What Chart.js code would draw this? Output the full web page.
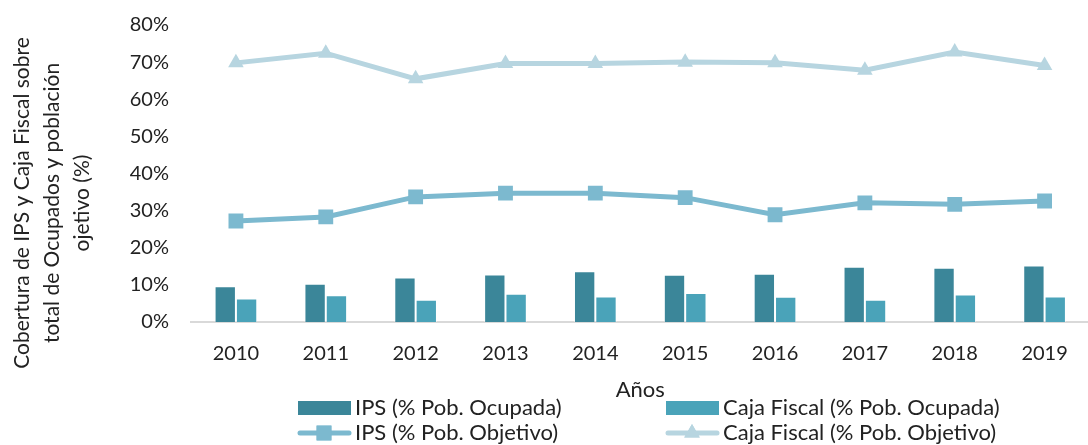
<!DOCTYPE html>
<html>
<head>
<meta charset="utf-8">
<script src="https://cdn.jsdelivr.net/npm/chart.js@4.4.1/dist/chart.umd.min.js"></script>
<style>
    html, body { margin: 0; padding: 0; background: #fff; overflow: hidden; }
    #contenedor { width: 1100px; height: 445px; }
</style>
</head>
<body>
<div id="contenedor"><canvas id="grafico-cobertura"></canvas></div>
<script>
// datos (porcentajes)
var anos = ['2010', '2011', '2012', '2013', '2014', '2015', '2016', '2017', '2018', '2019'];
var ipsOcupada = [9.6, 10.3, 12.0, 12.8, 13.7, 12.7, 13.0, 14.9, 14.6, 15.2];
var cajaOcupada = [6.3, 7.2, 6.0, 7.6, 6.9, 7.8, 6.8, 6.0, 7.4, 6.9];
var ipsObjetivo = [27.2, 28.3, 33.7, 34.7, 34.7, 33.5, 28.9, 32.1, 31.7, 32.6];
var cajaObjetivo = [69.8, 72.4, 65.5, 69.6, 69.6, 70.0, 69.8, 67.8, 72.7, 69.1];
var tituloY = ['Cobertura de IPS y Caja Fiscal sobre', 'total de Ocupados y población', 'ojetivo (%)'];
var tituloX = 'Años';

var fuente = 'Lato';
var colorTexto = '#222222';

// titulo del eje Y (tres lineas, girado) y leyenda en dos columnas
var textosExtra = {
    id: 'textosExtra',
    afterDraw: function (chart) {
        var ctx = chart.ctx;
        ctx.save();

        // titulo vertical
        ctx.translate(0, 203);
        ctx.rotate(-Math.PI / 2);
        ctx.font = '21px ' + fuente;
        ctx.textAlign = 'center';
        ctx.textBaseline = 'middle';
        ctx.fillStyle = colorTexto;
        for (var t = 0; t < tituloY.length; t++) {
            ctx.fillText(tituloY[t], 0, 22 + t * 30);
        }
        ctx.setTransform(1, 0, 0, 1, 0, 0);

        // leyenda
        var columnas = [298, 666];
        var filas = [408, 433];
        ctx.font = '22px ' + fuente;
        ctx.textAlign = 'left';
        for (var i = 0; i < chart.data.datasets.length; i++) {
            var ds = chart.data.datasets[i];
            var x = columnas[i % 2];
            var y = filas[Math.floor(i / 2)];
            if (ds.type === 'line') {
                ctx.strokeStyle = ds.borderColor;
                ctx.lineWidth = 5;
                ctx.lineCap = 'round';
                ctx.beginPath();
                ctx.moveTo(x + 2, y);
                ctx.lineTo(x + 51, y);
                ctx.stroke();
                ctx.fillStyle = ds.borderColor;
                ctx.beginPath();
                Chart.helpers.drawPoint(ctx, {
                    pointStyle: ds.pointStyle,
                    radius: ds.pointRadius,
                    borderWidth: 0
                }, x + 26, y);
                ctx.fill();
            } else {
                ctx.fillStyle = ds.backgroundColor;
                ctx.fillRect(x, y - 7, 53, 14);
            }
            ctx.fillStyle = colorTexto;
            ctx.fillText(ds.label, x + 57, y);
        }
        ctx.restore();
    }
};

var grafico = new Chart(document.getElementById('grafico-cobertura'), {
    type: 'bar',
    data: {
        labels: anos,
        datasets: [{
            label: 'IPS (% Pob. Ocupada)',
            data: ipsOcupada,
            backgroundColor: '#3b8699',
            borderColor: 'rgba(255,255,255,0.45)',
            borderWidth: 1,
            categoryPercentage: 0.475,
            barPercentage: 1,
            order: 3
        }, {
            label: 'Caja Fiscal (% Pob. Ocupada)',
            data: cajaOcupada,
            backgroundColor: '#4aa3b9',
            borderColor: 'rgba(255,255,255,0.45)',
            borderWidth: 1,
            categoryPercentage: 0.475,
            barPercentage: 1,
            order: 3
        }, {
            type: 'line',
            label: 'IPS (% Pob. Objetivo)',
            data: ipsObjetivo,
            borderColor: '#7cb9cf',
            backgroundColor: '#7cb9cf',
            borderWidth: 5,
            pointStyle: 'rect',
            pointRadius: 10.5,
            pointBorderWidth: 0,
            tension: 0,
            order: 2
        }, {
            type: 'line',
            label: 'Caja Fiscal (% Pob. Objetivo)',
            data: cajaObjetivo,
            borderColor: '#b7d5e0',
            backgroundColor: '#b7d5e0',
            borderWidth: 5,
            pointStyle: 'triangle',
            pointRadius: 9,
            pointBorderWidth: 0,
            tension: 0,
            order: 1
        }]
    },
    options: {
        responsive: true,
        maintainAspectRatio: false,
        animation: false,
        layout: { padding: { top: 25, right: 1, bottom: 42, left: 0 } },
        plugins: {
            legend: { display: false },
            tooltip: { enabled: false }
        },
        scales: {
            x: {
                grid: { display: false, drawTicks: false },
                border: { display: true, color: '#d9d9d9', width: 2 },
                ticks: { color: colorTexto, font: { family: fuente, size: 20 }, padding: 20 },
                title: {
                    display: true,
                    text: tituloX,
                    color: colorTexto,
                    font: { family: fuente, size: 22 },
                    padding: { top: 0, bottom: 0 }
                },
                afterFit: function (scale) { scale.height = 81; }
            },
            y: {
                min: 0,
                max: 80,
                grid: { display: false, drawTicks: false },
                border: { display: false },
                ticks: {
                    stepSize: 10,
                    color: colorTexto,
                    font: { family: fuente, size: 20 },
                    padding: 22,
                    callback: function (v) { return v + '%'; }
                },
                afterFit: function (scale) {
                    scale.width = 191;
                    scale.paddingTop = 0;
                    scale.paddingBottom = 0;
                }
            }
        }
    },
    plugins: [textosExtra]
});
</script>
</body>
</html>
